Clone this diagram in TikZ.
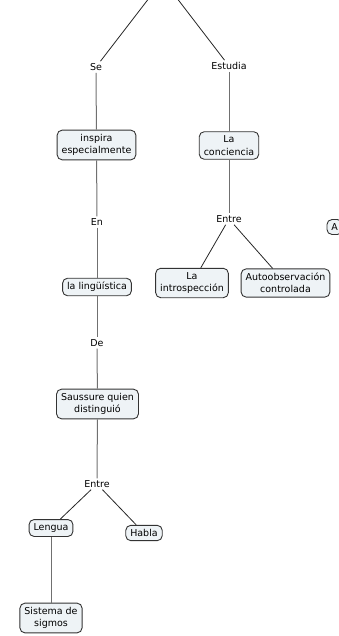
\documentclass[tikz,border=0pt]{standalone}
\usepackage{fontspec}
\setmainfont{DejaVu Sans}
\begin{document}
\definecolor{boxfill}{HTML}{EEF3F6}
\definecolor{boxdraw}{HTML}{333333}
\definecolor{vline}{HTML}{707070}
\begin{tikzpicture}[x=1pt,y=-1pt,
  concept/.style={draw=boxdraw,fill=boxfill,line width=0.9pt,rounded corners=5pt,
    align=center,inner xsep=4.5pt,inner ysep=4pt,font=\fontsize{9.5}{12.5}\selectfont},
  linkword/.style={fill=white,inner sep=2pt,font=\fontsize{9.5}{12.5}\selectfont},
  conn/.style={draw=vline,line width=1pt},
  dconn/.style={draw=black!85,line width=0.8pt}]
\useasboundingbox (0,0) rectangle (338,636);
\coordinate (top) at (163,-20);
\node[linkword] (se) at (96,67) {Se};
\node[linkword] (estudia) at (229,66) {Estudia};
\node[concept] (inspira) at (96.5,145) {inspira\\especialmente};
\node[concept] (conc) at (229,145.5) {La\\conciencia};
\node[linkword] (entre1) at (229,219) {Entre};
\node[concept] (intro) at (192,283) {La\\introspección};
\node[concept] (auto) at (285.5,283) {Autoobservación\\controlada};
\node[concept,anchor=west] (a) at (326.5,227) {A};
\node[linkword] (en) at (97,222) {En};
\node[concept] (ling) at (97,287) {la lingüística};
\node[linkword] (de) at (97,343) {De};
\node[concept] (sau) at (97.5,404) {Saussure quien\\distinguió};
\node[linkword] (entre2) at (97,484) {Entre};
\node[concept] (lengua) at (51,528) {Lengua};
\node[concept] (habla) at (144,533) {Habla};
\node[concept] (sist) at (51,618) {Sistema de\\sigmos};
\draw[dconn] (se) -- (top);
\draw[dconn] (estudia) -- (top);
\draw[conn] (se) -- (inspira);
\draw[conn] (estudia) -- (conc);
\draw[conn] (conc) -- (entre1);
\draw[dconn] (entre1) -- (intro);
\draw[dconn] (entre1) -- (auto);
\draw[conn] (inspira) -- (en);
\draw[conn] (en) -- (ling);
\draw[conn] (ling) -- (de);
\draw[conn] (de) -- (sau);
\draw[conn] (sau) -- (entre2);
\draw[dconn] (entre2) -- (lengua);
\draw[dconn] (entre2) -- (habla);
\draw[conn] (lengua) -- (sist);
\end{tikzpicture}
\end{document}
